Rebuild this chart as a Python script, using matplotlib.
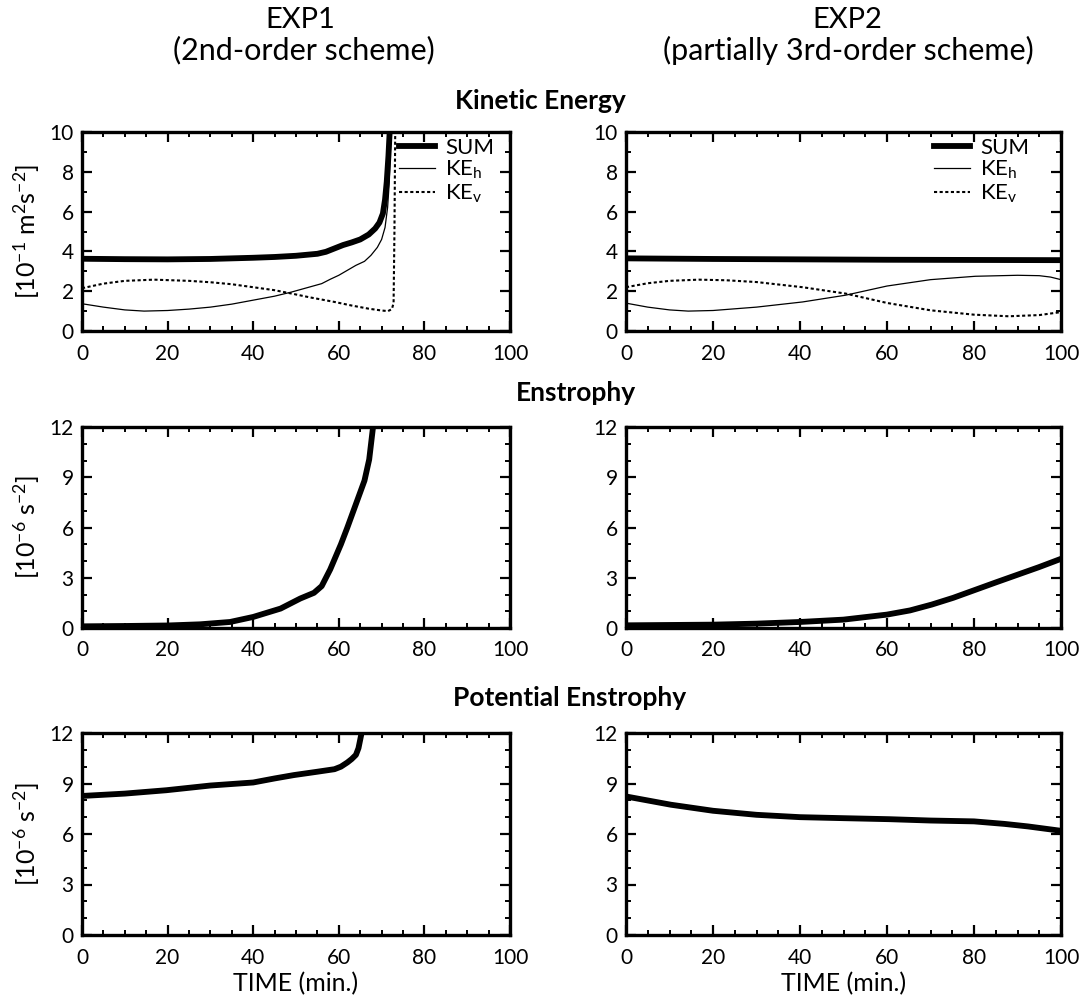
import matplotlib
matplotlib.use("Agg")
import matplotlib.pyplot as plt
from matplotlib.ticker import MultipleLocator

plt.rcParams['font.family'] = ['Lato', 'DejaVu Sans']
plt.rcParams['mathtext.fontset'] = 'custom'
plt.rcParams['mathtext.rm'] = 'Lato'
plt.rcParams['mathtext.it'] = 'Lato'

# --- Kinetic energy, EXP1 ---
sum1_t = [0, 10, 20, 30, 40, 45, 50, 55, 57, 59, 61, 63, 65, 67, 68.5, 69.5, 70.3, 70.8, 71.2, 71.6, 72.0]
sum1_v = [3.63, 3.61, 3.6, 3.62, 3.68, 3.72, 3.78, 3.88, 3.98, 4.15, 4.32, 4.45, 4.6, 4.85, 5.15, 5.45, 5.9, 6.6, 7.5, 8.8, 10.5]
keh1_t = [0, 5, 10, 14.5, 20, 25, 30, 35, 40, 45, 49, 53, 56, 58, 60, 62, 64, 66, 67.5, 69, 70, 70.8, 71.4, 71.8, 72.3]
keh1_v = [1.37, 1.2, 1.06, 1.0, 1.03, 1.1, 1.2, 1.35, 1.55, 1.75, 1.96, 2.2, 2.38, 2.6, 2.8, 3.05, 3.3, 3.5, 3.8, 4.2, 4.6, 5.2, 6.2, 7.5, 10.5]
kev1_t = [0, 5, 10, 16.8, 25, 30, 35, 40, 45, 49, 53, 59, 63, 67, 70, 71.5, 72.4, 72.8, 73.0, 73.2]
kev1_v = [2.15, 2.38, 2.52, 2.58, 2.52, 2.45, 2.35, 2.2, 2.05, 1.88, 1.7, 1.46, 1.28, 1.12, 1.03, 1.0, 1.1, 1.4, 5.0, 10.5]

# --- Kinetic energy, EXP2 ---
sum2_t = [0, 20, 40, 60, 80, 100]
sum2_v = [3.65, 3.62, 3.6, 3.58, 3.57, 3.56]
keh2_t = [0, 5, 10, 14.3, 20, 30, 40.6, 50.5, 60, 70, 80.3, 90, 95, 97.6, 100]
keh2_v = [1.4, 1.2, 1.06, 1.0, 1.03, 1.2, 1.46, 1.8, 2.26, 2.58, 2.75, 2.8, 2.78, 2.71, 2.58]
kev2_t = [0, 5, 10, 16.7, 23, 30, 40.6, 50.5, 60, 70, 80, 88, 95, 100]
kev2_v = [2.2, 2.4, 2.52, 2.58, 2.55, 2.46, 2.2, 1.88, 1.41, 1.04, 0.82, 0.74, 0.8, 0.95]

# --- Enstrophy ---
ens1_t = [0, 10, 20, 27.6, 34.6, 40, 46.4, 51, 54.2, 56, 57, 58, 59.5, 60.5, 62, 63, 64, 65, 66, 67.1, 68, 68.4]
ens1_v = [0.1, 0.12, 0.15, 0.22, 0.36, 0.66, 1.16, 1.76, 2.1, 2.5, 3.0, 3.5, 4.4, 5.0, 6.0, 6.7, 7.4, 8.1, 8.8, 10.06, 12, 12.6]
ens2_t = [0, 10, 20, 30, 40, 50, 60, 65.3, 70.3, 75.2, 80.1, 85, 90, 94.9, 100]
ens2_v = [0.16, 0.18, 0.2, 0.26, 0.36, 0.5, 0.8, 1.05, 1.4, 1.8, 2.26, 2.72, 3.18, 3.63, 4.13]

# --- Potential enstrophy ---
pens1_t = [0, 10, 19.7, 30, 40, 45, 49.5, 55, 59, 60.5, 62, 63, 64, 64.6, 65, 65.4, 65.7]
pens1_v = [8.26, 8.4, 8.6, 8.88, 9.06, 9.3, 9.5, 9.7, 9.85, 10.0, 10.25, 10.45, 10.7, 11.1, 11.6, 12.1, 12.6]
pens2_t = [0, 10.3, 20, 30, 40, 50, 60.5, 70, 80, 87, 92.4, 100]
pens2_v = [8.23, 7.74, 7.38, 7.14, 7.0, 6.94, 6.88, 6.8, 6.75, 6.6, 6.45, 6.19]

W, H = 1079, 1001
fig = plt.figure(figsize=(W / 100, H / 100), dpi=100)


def px_axes(x0, x1, y0, y1):
    return fig.add_axes([x0 / W, 1 - y1 / H, (x1 - x0) / W, (y1 - y0) / H])


def style(ax, ymax, ystep):
    ax.set_xlim(0, 100)
    ax.set_ylim(0, ymax)
    ax.xaxis.set_major_locator(MultipleLocator(20))
    ax.xaxis.set_minor_locator(MultipleLocator(5))
    ax.yaxis.set_major_locator(MultipleLocator(ystep))
    ax.yaxis.set_minor_locator(MultipleLocator(1))
    ax.tick_params(which='both', direction='in', top=True, right=True, labelsize=15)
    ax.tick_params(which='major', length=7, width=1.6)
    ax.tick_params(axis='x', which='major', pad=9)
    ax.tick_params(axis='y', which='major', pad=6)
    ax.tick_params(which='minor', length=3.5, width=1.4)
    for s in ax.spines.values():
        s.set_linewidth(2.4)


cols = [(82, 510), (626, 1061)]
rows = [(132, 331), (427, 628), (733, 935)]

axes = [[px_axes(c[0], c[1], r[0], r[1]) for c in cols] for r in rows]

# kinetic energy
ax = axes[0][0]
ax.plot(sum1_t, sum1_v, color='k', lw=4.2, label='SUM')
ax.plot(keh1_t, keh1_v, color='k', lw=0.9, label=r'KE$_\mathrm{h}$')
ax.plot(kev1_t, kev1_v, color='k', lw=1.5, ls=(0, (1.5, 1.2)), label=r'KE$_\mathrm{v}$')
ax = axes[0][1]
ax.plot(sum2_t, sum2_v, color='k', lw=4.2, label='SUM')
ax.plot(keh2_t, keh2_v, color='k', lw=0.9, label=r'KE$_\mathrm{h}$')
ax.plot(kev2_t, kev2_v, color='k', lw=1.5, ls=(0, (1.5, 1.2)), label=r'KE$_\mathrm{v}$')
for a in axes[0]:
    style(a, 10, 2)
# legend anchors, in pixels inset from the top-right corner
for a, (dx, w) in zip(axes[0], ((16, 428), (32, 435))):
    a.legend(loc='upper right', bbox_to_anchor=(1 - dx / w, 1 - 6 / 199),
             frameon=False, fontsize=16, handlelength=1.6,
             handletextpad=0.45, labelspacing=0.05, borderaxespad=0.0, borderpad=0.0)

# enstrophy
axes[1][0].plot(ens1_t, ens1_v, color='k', lw=4.2)
axes[1][1].plot(ens2_t, ens2_v, color='k', lw=4.2)
for a in axes[1]:
    style(a, 12, 3)

# potential enstrophy
axes[2][0].plot(pens1_t, pens1_v, color='k', lw=4.2)
axes[2][1].plot(pens2_t, pens2_v, color='k', lw=4.2)
for a in axes[2]:
    style(a, 12, 3)
    a.set_xlabel('TIME (min.)', fontsize=18, labelpad=3)

axes[0][0].set_ylabel(r'[10$^{-1}$ m$^{2}$s$^{-2}$]', fontsize=18, labelpad=5)
axes[1][0].set_ylabel(r'[10$^{-6}$ s$^{-2}$]', fontsize=18, labelpad=5)
axes[2][0].set_ylabel(r'[10$^{-6}$ s$^{-2}$]', fontsize=18, labelpad=5)

# column headers and section titles
fig.text(300 / W, 1 - 20 / H, 'EXP1', ha='center', va='center', fontsize=21)
fig.text(304 / W, 1 - 50 / H, '(2nd-order scheme)', ha='center', va='center', fontsize=22)
fig.text(847 / W, 1 - 20 / H, 'EXP2', ha='center', va='center', fontsize=21)
fig.text(848 / W, 1 - 50 / H, '(partially 3rd-order scheme)', ha='center', va='center', fontsize=22)
fig.text(540 / W, 1 - 101 / H, 'Kinetic Energy', ha='center', va='center', fontsize=19, fontweight='bold')
fig.text(576 / W, 1 - 393 / H, 'Enstrophy', ha='center', va='center', fontsize=19, fontweight='bold')
fig.text(570 / W, 1 - 698 / H, 'Potential Enstrophy', ha='center', va='center', fontsize=19, fontweight='bold')

fig.savefig('out.png', dpi=100)
